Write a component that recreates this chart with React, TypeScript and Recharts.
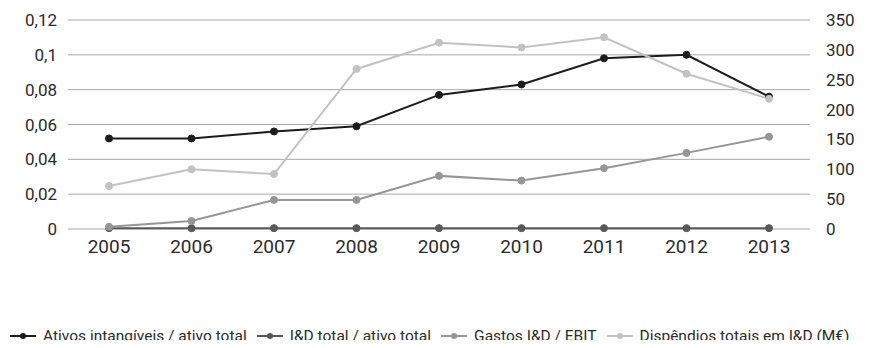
import { CartesianGrid, Legend, Line, LineChart, XAxis, YAxis } from 'recharts';

const years = ['2005', '2006', '2007', '2008', '2009', '2010', '2011', '2012', '2013'];
const intangiveis = [0.052, 0.052, 0.056, 0.059, 0.077, 0.083, 0.098, 0.1, 0.076];
const idTotal = [0.0005, 0.0005, 0.0005, 0.0005, 0.0005, 0.0005, 0.0005, 0.0005, 0.0005];
const gastosEbit = [0.0013, 0.0046, 0.0167, 0.0167, 0.0305, 0.0278, 0.0349, 0.0437, 0.053];
const dispendios = [72, 100, 92, 268, 312, 304, 321, 260, 218];

const leftTicks = [0, 0.02, 0.04, 0.06, 0.08, 0.1, 0.12];
const rightTicks = [0, 50, 100, 150, 200, 250, 300, 350];

const series = [
  { key: 'intangiveis', name: 'Ativos intangíveis / ativo total', color: '#1c1c1c', axis: 'left' },
  { key: 'idTotal', name: 'I&D total / ativo total', color: '#585858', axis: 'left' },
  { key: 'gastosEbit', name: 'Gastos I&D / EBIT', color: '#969696', axis: 'left' },
  { key: 'dispendios', name: 'Dispêndios totais em I&D (M€)', color: '#c2c2c2', axis: 'right' },
];

const data = years.map((year, i) => ({
  year,
  intangiveis: intangiveis[i],
  idTotal: idTotal[i],
  gastosEbit: gastosEbit[i],
  dispendios: dispendios[i],
}));

const FONT = 'Roboto, sans-serif';
const TEXT = '#2b2b2b';

const fmtLeft = (v: number) => String(Number(v.toFixed(2))).replace('.', ',');

function LegendRow() {
  return (
    <div style={{ display: 'flex', alignItems: 'center', fontFamily: FONT, fontSize: 15.5, color: TEXT, whiteSpace: 'nowrap' }}>
      {series.map((s) => (
        <div key={s.key} style={{ display: 'flex', alignItems: 'center', marginRight: 10 }}>
          <svg width={26} height={10} style={{ marginRight: 7 }}>
            <line x1={0} y1={5} x2={26} y2={5} stroke={s.color} strokeWidth={2} />
            <circle cx={13} cy={5} r={3} fill={s.color} />
          </svg>
          <span>{s.name}</span>
        </div>
      ))}
    </div>
  );
}

export default function App() {
  return (
    <div style={{ margin: -8, background: '#fff', width: 880, height: 348, overflow: 'hidden' }}>
      <LineChart width={880} height={348} data={data} margin={{ top: 20, right: 0, bottom: 89, left: 0 }}>
        <CartesianGrid yAxisId="left" vertical={false} stroke="#a8a8a8" strokeWidth={1} />
        <XAxis
          dataKey="year"
          height={30}
          padding={{ left: 41, right: 41 }}
          axisLine={false}
          tickLine={false}
          tickMargin={5}
          tick={{ fontSize: 19, fill: TEXT, fontFamily: FONT }}
        />
        <YAxis
          yAxisId="left"
          width={68}
          domain={[0, 0.12]}
          ticks={leftTicks}
          tickFormatter={fmtLeft}
          axisLine={false}
          tickLine={false}
          tickMargin={5}
          tick={{ fontSize: 17, fill: TEXT, fontFamily: FONT }}
        />
        <YAxis
          yAxisId="right"
          orientation="right"
          width={70}
          domain={[0, 350]}
          ticks={rightTicks}
          axisLine={false}
          tickLine={false}
          tickMargin={10}
          tick={{ fontSize: 17, fill: TEXT, fontFamily: FONT }}
        />
        <Legend
          layout="horizontal"
          verticalAlign="middle"
          align="center"
          wrapperStyle={{ top: 327, left: 10, width: 'auto' }}
          content={() => <LegendRow />}
        />
        {series.map((s) => (
          <Line
            key={s.key}
            yAxisId={s.axis}
            dataKey={s.key}
            name={s.name}
            stroke={s.color}
            strokeWidth={2}
            dot={{ r: 3.5, fill: s.color, stroke: s.color, strokeWidth: 1 }}
            activeDot={false}
            isAnimationActive={false}
          />
        ))}
      </LineChart>
    </div>
  );
}
